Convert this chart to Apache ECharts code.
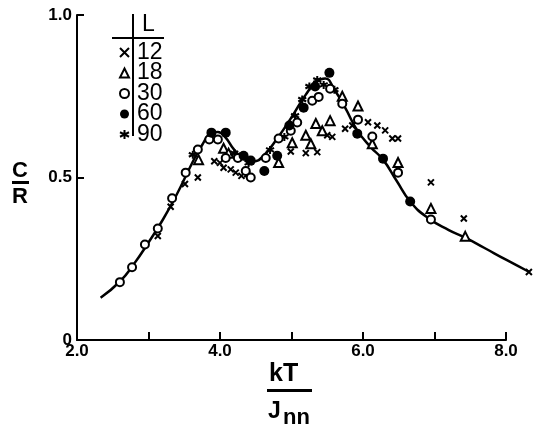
<!DOCTYPE html>
<html>
<head>
<meta charset="utf-8">
<script src="https://cdn.jsdelivr.net/npm/echarts@6/dist/echarts.min.js"></script>
<style>
  html, body { margin: 0; padding: 0; background: #fff; }
  #chart { width: 536px; height: 428px; }
</style>
</head>
<body>
<div id="chart"></div>
<script>
// specific heat C/R vs kT/Jnn, lattice sizes L
const sizeLabels = ['12', '18', '30', '60', '90'];

const L12 = [[3.13,0.32],[3.31,0.41],[3.51,0.48],[3.69,0.50],[3.92,0.55],[4.0,0.545],[4.05,0.53],
  [4.15,0.525],[4.22,0.515],[4.3,0.505],[4.38,0.51],[4.99,0.58],[5.2,0.575],[5.36,0.578],[5.5,0.63],
  [5.57,0.625],[5.75,0.65],[5.85,0.66],[6.07,0.67],[6.2,0.66],[6.31,0.645],[6.41,0.62],[6.49,0.62],
  [6.95,0.485],[7.41,0.374],[8.32,0.209]];
const L18 = [[3.70,0.555],[4.05,0.59],[4.12,0.575],[4.82,0.546],[5.01,0.607],[5.2,0.63],[5.27,0.604],
  [5.34,0.666],[5.43,0.644],[5.54,0.675],[5.71,0.75],[5.93,0.72],[6.13,0.604],[6.49,0.546],
  [6.95,0.405],[7.43,0.319]];
const L30 = [[2.60,0.178],[2.77,0.224],[2.95,0.294],[3.13,0.343],[3.33,0.436],[3.52,0.515],[3.69,0.586],
  [3.85,0.617],[3.97,0.617],[4.08,0.56],[4.25,0.56],[4.36,0.52],[4.43,0.50],[4.64,0.56],[4.82,0.62],
  [4.99,0.644],[5.08,0.669],[5.29,0.736],[5.38,0.748],[5.54,0.773],[5.71,0.727],[5.93,0.678],
  [6.13,0.626],[6.49,0.515],[6.95,0.371]];
const L60 = [[3.88,0.638],[4.08,0.638],[4.33,0.567],[4.43,0.552],[4.62,0.52],[4.80,0.567],[4.97,0.66],
  [5.17,0.715],[5.33,0.78],[5.53,0.822],[5.92,0.635],[6.28,0.558],[6.66,0.426]];
const L90 = [[3.62,0.57],[4.2,0.575],[4.28,0.565],[4.4,0.545],[4.7,0.585],[4.9,0.625],[5.05,0.69],
  [5.15,0.74],[5.25,0.78],[5.36,0.80],[5.45,0.785],[5.6,0.77]];

// solid guide curve (runs past the 8.0 end of the axis)
const curve = [[2.33,0.13],[2.6,0.18],[2.8,0.235],[3.0,0.30],[3.2,0.37],[3.4,0.45],[3.6,0.54],
  [3.75,0.60],[3.87,0.635],[3.97,0.64],[4.07,0.625],[4.2,0.585],[4.35,0.555],[4.47,0.55],[4.6,0.565],
  [4.8,0.62],[5.0,0.685],[5.2,0.755],[5.35,0.795],[5.47,0.805],[5.6,0.77],[5.75,0.715],[5.92,0.645],
  [6.1,0.595],[6.28,0.555],[6.47,0.49],[6.66,0.426],[6.9,0.377],[7.2,0.338],[7.43,0.315],[7.7,0.283],
  [8.0,0.247],[8.32,0.21]];

const xTicks = { min: 2, max: 8, interval: 1 };
const yTicks = { min: 0, max: 1, interval: 0.5 };
const xWide = { min: 2, max: 8.4 };

const markX = 'path://M0,0L10,10M10,0L0,10';
const markStar = 'path://M5,0L5,10M0,2.5L10,7.5M0,7.5L10,2.5';

const stroked = { color: '#000', borderColor: '#000', borderWidth: 2, opacity: 1 };
const hollow = { color: '#000', borderColor: '#000', borderWidth: 2, opacity: 1 };
const labelFont = { fontFamily: 'Liberation Sans', fontWeight: 'bold', fontSize: 17, color: '#000' };

const chart = echarts.init(document.getElementById('chart'));

// second grid keeps the same scale but extends right, so the curve can pass 8.0
const pxPerUnit = (536 - 77 - 30) / (xTicks.max - xTicks.min);
const wideRight = 536 - 77 - pxPerUnit * (xWide.max - xWide.min);

chart.setOption({
  backgroundColor: '#fff',
  animation: false,
  grid: [
    { left: 77, right: 30, top: 15, bottom: 88 },
    { left: 77, right: wideRight, top: 15, bottom: 88 }
  ],
  legend: {
    orient: 'vertical',
    left: 114,
    top: 36,
    itemWidth: 9,
    itemHeight: 9,
    itemGap: -2.5,
    data: sizeLabels,
    textStyle: { fontFamily: 'Liberation Sans', fontSize: 23, lineHeight: 18, color: '#000', padding: [0, 0, 0, 3] }
  },
  xAxis: [{
    type: 'value', gridIndex: 0,
    min: xTicks.min, max: xTicks.max, interval: xTicks.interval,
    axisLine: { lineStyle: { color: '#000', width: 2 } },
    axisTick: { inside: true, length: 8, lineStyle: { color: '#000', width: 2 } },
    splitLine: { show: false },
    axisLabel: {
      ...labelFont,
      margin: 3,
      formatter: v => (v % 2 === 0 ? v.toFixed(1) : '')
    }
  }, {
    type: 'value', gridIndex: 1, show: false,
    min: xWide.min, max: xWide.max, splitLine: { show: false }
  }],
  yAxis: [{
    type: 'value', gridIndex: 0,
    min: yTicks.min, max: yTicks.max, interval: yTicks.interval,
    axisLine: { lineStyle: { color: '#000', width: 2 } },
    axisTick: { inside: true, length: 7, lineStyle: { color: '#000', width: 2 } },
    splitLine: { show: false },
    axisLabel: {
      ...labelFont,
      margin: 5,
      formatter: v => (v === 0 ? '0' : v.toFixed(1))
    }
  }, {
    type: 'value', gridIndex: 1, show: false,
    min: yTicks.min, max: yTicks.max, splitLine: { show: false }
  }],
  graphic: [
    // legend table rules and header
    { type: 'line', shape: { x1: 133, y1: 14, x2: 133, y2: 136 }, style: { stroke: '#000', lineWidth: 2 } },
    { type: 'line', shape: { x1: 112, y1: 38, x2: 164, y2: 38 }, style: { stroke: '#000', lineWidth: 2 } },
    { type: 'text', left: 142, top: 13, style: { text: 'L', font: '23px "Liberation Sans"', fill: '#000' } },
    // y axis name C/R
    { type: 'text', left: 12, top: 160, style: { text: 'C', font: 'bold 22px "Liberation Sans"', fill: '#000' } },
    { type: 'rect', shape: { x: 12, y: 181, width: 17, height: 3 }, style: { fill: '#000' } },
    { type: 'text', left: 12, top: 186, style: { text: 'R', font: 'bold 22px "Liberation Sans"', fill: '#000' } },
    // x axis name kT/Jnn
    { type: 'text', left: 269, top: 362, style: { text: 'kT', font: 'bold 25px "Liberation Sans"', fill: '#000' } },
    { type: 'rect', shape: { x: 267, y: 389, width: 45, height: 3 }, style: { fill: '#000' } },
    { type: 'text', left: 268, top: 400, style: { text: 'J', font: 'bold 23px "Liberation Sans"', fill: '#000' } },
    { type: 'text', left: 283, top: 407, style: { text: 'nn', font: 'bold 22px "Liberation Sans"', fill: '#000' } }
  ],
  series: [
    {
      type: 'line', data: curve, xAxisIndex: 1, yAxisIndex: 1, smooth: true, showSymbol: false,
      silent: true, lineStyle: { color: '#000', width: 2.5 }, z: 1
    },
    { name: '12', type: 'scatter', data: L12, clip: false, symbol: markX, symbolSize: 6, itemStyle: stroked, z: 3 },
    { name: '18', type: 'scatter', data: L18, clip: false, symbol: 'emptyTriangle', symbolSize: 9, itemStyle: hollow, z: 3 },
    { name: '30', type: 'scatter', data: L30, clip: false, symbol: 'emptyCircle', symbolSize: 8, itemStyle: hollow, z: 4 },
    { name: '60', type: 'scatter', data: L60, clip: false, symbol: 'circle', symbolSize: 10, itemStyle: { color: '#000', opacity: 1 }, z: 4 },
    { name: '90', type: 'scatter', data: L90, clip: false, symbol: markStar, symbolSize: 8, itemStyle: stroked, z: 3 }
  ]
});
</script>
</body>
</html>
